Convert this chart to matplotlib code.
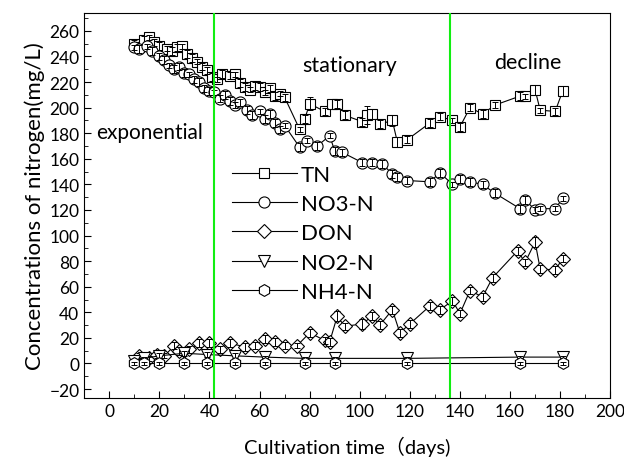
import matplotlib.pyplot as plt
from matplotlib.ticker import MultipleLocator

plt.rcParams['font.family'] = ['Lato', 'Noto Sans CJK SC', 'DejaVu Sans']

# datos
tn_dias = [10, 12, 14, 16, 18, 20, 23, 25, 27, 29, 31, 33, 35, 37, 39, 41, 43, 45, 48, 50,
           52, 54, 56, 58, 60, 62, 64, 66, 68, 70, 76, 78, 80, 86, 89, 91, 94, 101, 103, 105,
           108, 113, 115, 119, 128, 132, 137, 140, 144, 149, 154, 164, 166, 170, 172, 178, 181]
tn = [250, 247, 253, 255, 251, 248, 246, 244, 247, 248, 242, 239, 236, 232, 229, 224, 222, 226, 225, 226,
      219, 216, 214, 217, 216, 212, 215, 209, 211, 208, 183, 191, 203, 197, 203, 203, 194, 189, 194, 195,
      187, 190, 173, 175, 188, 193, 190, 185, 200, 195, 202, 209, 209, 214, 198, 197, 213]
tn_err = [3, 2, 3, 2, 3, 3, 2, 3, 3, 2, 3, 3, 2, 3, 3, 3, 2, 3, 3, 2,
          3, 3, 2, 3, 3, 2, 3, 3, 2, 3, 2, 3, 5, 3, 4, 3, 3, 3, 7, 4,
          3, 4, 4, 3, 3, 3, 2, 3, 3, 3, 2, 3, 2, 4, 2, 3, 4]

no3_dias = [10, 12, 15, 17, 20, 22, 24, 26, 28, 30, 32, 34, 36, 38, 40, 42, 44, 46, 48, 50,
            52, 55, 57, 60, 62, 64, 66, 68, 70, 76, 79, 83, 88, 90, 93, 101, 105, 109, 113, 115,
            119, 128, 132, 137, 140, 144, 149, 154, 164, 166, 170, 172, 178, 181]
no3 = [247, 246, 248, 244, 240, 237, 233, 230, 232, 227, 226, 222, 220, 215, 213, 212, 207, 210, 205, 202,
       204, 198, 194, 197, 191, 195, 188, 183, 186, 169, 174, 170, 178, 166, 165, 157, 157, 156, 148, 146,
       143, 142, 149, 140, 144, 142, 140, 133, 121, 128, 120, 121, 121, 129]
no3_err = [2, 3, 2, 3, 3, 3, 2, 3, 3, 3, 2, 3, 3, 3, 3, 2, 3, 3, 3, 2,
           3, 3, 3, 2, 3, 3, 3, 3, 2, 3, 2, 3, 2, 3, 3, 3, 3, 3, 3, 3,
           3, 3, 3, 2, 3, 3, 3, 3, 3, 3, 2, 2, 2, 2]

don_dias = [12, 16, 19, 22, 26, 28, 32, 36, 40, 44, 48, 54, 58, 62, 66, 70, 75, 80, 86, 88,
            91, 94, 101, 105, 108, 113, 116, 120, 128, 132, 137, 140, 144, 149, 153, 163, 166, 170, 172, 178, 181]
don = [6, 4, 7, 6, 14, 10, 11, 16, 16, 11, 16, 13, 14, 19, 17, 14, 14, 24, 18, 17,
       37, 29, 31, 37, 30, 42, 24, 31, 45, 42, 49, 39, 57, 52, 67, 88, 79, 95, 74, 73, 82]
don_err = [2, 2, 3, 2, 3, 3, 3, 3, 3, 3, 3, 3, 3, 3, 3, 3, 2, 3, 3, 3,
           4, 3, 4, 3, 3, 3, 3, 3, 3, 3, 3, 3, 3, 3, 3, 3, 3, 4, 3, 3, 3]

no2_dias = [10, 14, 20, 30, 39, 50, 62, 78, 90, 119, 164, 181]
no2 = [2, 4, 6, 8, 7, 6, 5, 4, 4, 4, 5, 5]
no2_err = [1, 1, 2, 2, 2, 2, 1, 1, 1, 1, 1, 1]

nh4_dias = [10, 14, 20, 30, 39, 50, 62, 78, 90, 119, 164, 181]
nh4 = [0, 0, 0, 0, 0, 0, 0, 0, 0, 0, 0, 0]
nh4_err = [1, 1, 1, 1, 1, 1, 1, 1, 1, 1, 1, 1]

series = [
    ("TN", tn_dias, tn, tn_err, "s", 7.5),
    ("NO3-N", no3_dias, no3, no3_err, "o", 8),
    ("DON", don_dias, don, don_err, "D", 7),
    ("NO2-N", no2_dias, no2, no2_err, "v", 8),
    ("NH4-N", nh4_dias, nh4, nh4_err, "h", 8.5),
]

fases = [42, 136]

fig = plt.figure(figsize=(6.24, 4.64), dpi=100)
ax = fig.add_axes([0.135, 0.140, 0.843, 0.830])

for i, (nombre, xs, ys, err, marcador, tam) in enumerate(series):
    ax.plot(xs, ys, color="black", linewidth=0.8, marker=marcador, markersize=tam,
            markerfacecolor="white", markeredgecolor="black", markeredgewidth=0.8,
            label=nombre, zorder=2 + i * 0.1)
    # barras de error encima del marcador (se ven como cruces dentro)
    ax.errorbar(xs, ys, yerr=err, fmt="none", ecolor="black", elinewidth=0.7,
                capsize=2.5, capthick=0.7, zorder=2.05 + i * 0.1)

for x in fases:
    ax.axvline(x, color="#11ee11", linewidth=1.5, zorder=5)

ax.set_xlim(-10, 200)
ax.set_ylim(-27, 274)
ax.xaxis.set_major_locator(MultipleLocator(20))
ax.xaxis.set_minor_locator(MultipleLocator(10))
ax.yaxis.set_major_locator(MultipleLocator(20))
ax.yaxis.set_minor_locator(MultipleLocator(10))
ax.tick_params(which="both", direction="in", top=False, right=False, labelsize=12.5)
ax.tick_params(which="major", length=5)
ax.tick_params(which="minor", length=3)

ax.text(16, 181, "exponential", fontsize=15, ha="center", va="center")
ax.text(96, 233, "stationary", fontsize=15.5, ha="center", va="center")
ax.text(167, 236, "decline", fontsize=15.5, ha="center", va="center")

ax.set_xlabel("Cultivation time（days)", fontsize=14.5, labelpad=12)
ax.set_ylabel("Concentrations of nitrogen(mg/L)", fontsize=16, labelpad=3)

ax.legend(loc="upper left", bbox_to_anchor=(0.26, 0.635), frameon=False, fontsize=16,
          handlelength=2.9, handletextpad=0.2, labelspacing=0.42, borderpad=0)

fig.savefig("out.png", dpi=100)
